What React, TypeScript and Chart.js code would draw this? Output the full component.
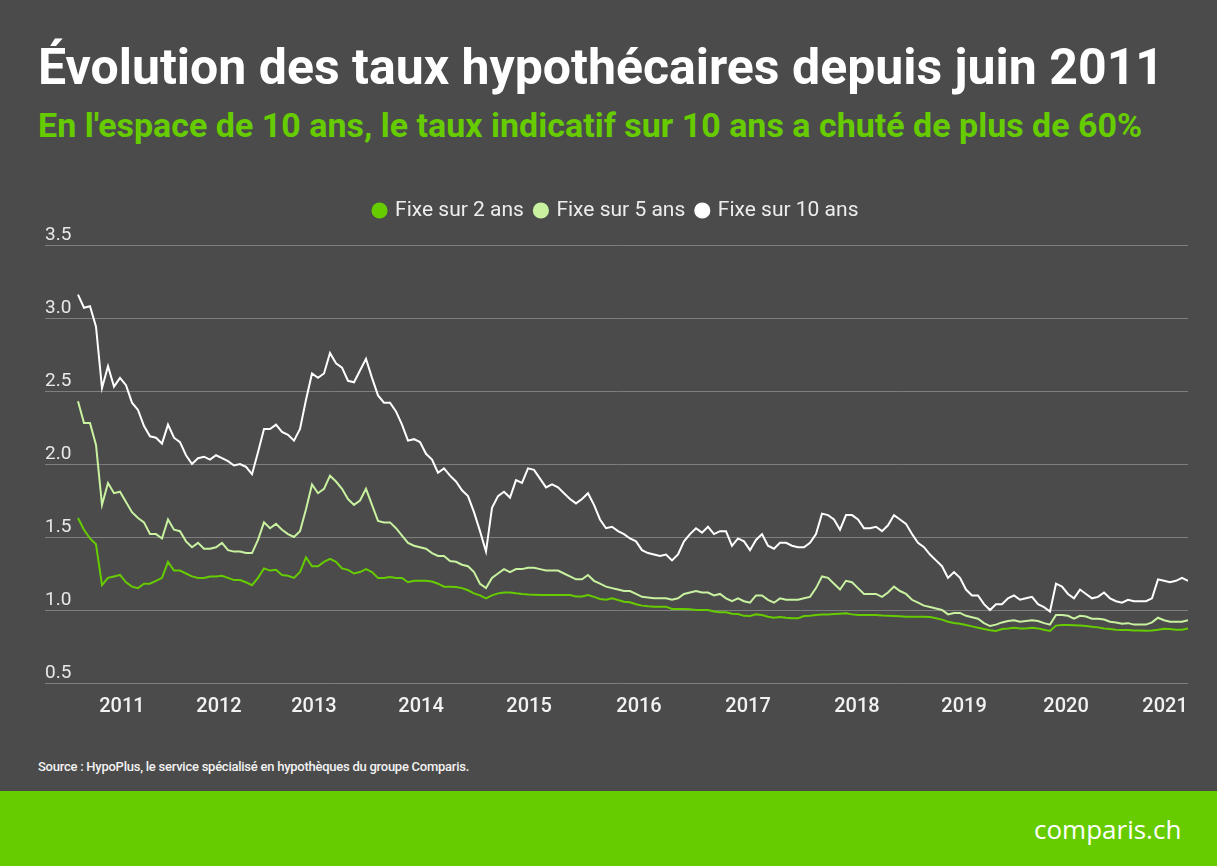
import React, { useEffect, useRef } from 'react';
import { Chart, registerables } from 'chart.js';

Chart.register(...registerables);

const seriesNames = ['Fixe sur 2 ans', 'Fixe sur 5 ans', 'Fixe sur 10 ans'];
const seriesColors = ['#66cc00', '#c8f2a0', '#ffffff'];

const yearLabels = ['2011', '2012', '2013', '2014', '2015', '2016', '2017', '2018', '2019', '2020', '2021'];
// sample index (one sample every ~3 weeks) where each year label sits
const yearTickIndex = [7.33, 23.5, 39.33, 57.17, 75.17, 93.5, 111.67, 129.83, 147.67, 164.67, 181.17];
const yTicks = [0.5, 1.0, 1.5, 2.0, 2.5, 3.0, 3.5];

const fixe2 = [
  1.63, 1.55, 1.49, 1.45, 1.17, 1.22, 1.23, 1.24, 1.19, 1.16,
  1.15, 1.18, 1.18, 1.20, 1.22, 1.33, 1.27, 1.27, 1.25, 1.23,
  1.22, 1.22, 1.23, 1.23, 1.235, 1.22, 1.205, 1.205, 1.19, 1.17,
  1.22, 1.285, 1.27, 1.275, 1.24, 1.235, 1.22, 1.26, 1.36, 1.30,
  1.30, 1.33, 1.35, 1.33, 1.285, 1.275, 1.25, 1.26, 1.28, 1.26,
  1.22, 1.22, 1.226, 1.22, 1.22, 1.19, 1.20, 1.20, 1.20, 1.195,
  1.18, 1.16, 1.16, 1.158, 1.15, 1.135, 1.114, 1.10, 1.08, 1.10,
  1.114, 1.12, 1.12, 1.114, 1.11, 1.107, 1.105, 1.103, 1.103, 1.103,
  1.103, 1.103, 1.103, 1.093, 1.093, 1.103, 1.09, 1.075, 1.07, 1.08,
  1.068, 1.057, 1.053, 1.039, 1.03, 1.025, 1.023, 1.023, 1.023, 1.007,
  1.007, 1.007, 1.005, 1.00, 1.00, 1.00, 0.99, 0.984, 0.984, 0.975,
  0.973, 0.96, 0.959, 0.97, 0.966, 0.954, 0.947, 0.952, 0.947, 0.943,
  0.943, 0.959, 0.96, 0.966, 0.97, 0.97, 0.973, 0.975, 0.977, 0.97,
  0.966, 0.966, 0.966, 0.966, 0.963, 0.961, 0.959, 0.957, 0.954, 0.954,
  0.954, 0.954, 0.952, 0.943, 0.934, 0.92, 0.911, 0.906, 0.897, 0.888,
  0.879, 0.87, 0.861, 0.856, 0.87, 0.874, 0.879, 0.874, 0.874, 0.879,
  0.874, 0.865, 0.856, 0.893, 0.897, 0.897, 0.895, 0.893, 0.89, 0.886,
  0.881, 0.874, 0.87, 0.865, 0.863, 0.863, 0.86, 0.86, 0.858, 0.86,
  0.865, 0.872, 0.87, 0.865, 0.865, 0.874,
];

const fixe5 = [
  2.43, 2.28, 2.28, 2.13, 1.72, 1.87, 1.80, 1.81, 1.74, 1.67,
  1.63, 1.60, 1.52, 1.52, 1.49, 1.62, 1.55, 1.54, 1.47, 1.43,
  1.46, 1.42, 1.42, 1.43, 1.46, 1.41, 1.40, 1.40, 1.39, 1.39,
  1.48, 1.60, 1.56, 1.59, 1.55, 1.52, 1.50, 1.54, 1.69, 1.86,
  1.80, 1.83, 1.92, 1.88, 1.83, 1.76, 1.72, 1.75, 1.83, 1.72,
  1.61, 1.60, 1.60, 1.56, 1.51, 1.46, 1.44, 1.43, 1.42, 1.39,
  1.37, 1.37, 1.335, 1.33, 1.31, 1.30, 1.26, 1.18, 1.15, 1.22,
  1.25, 1.28, 1.26, 1.28, 1.28, 1.29, 1.29, 1.28, 1.27, 1.27,
  1.27, 1.25, 1.23, 1.21, 1.21, 1.24, 1.20, 1.18, 1.16, 1.15,
  1.14, 1.13, 1.13, 1.11, 1.09, 1.085, 1.08, 1.08, 1.08, 1.07,
  1.08, 1.11, 1.12, 1.13, 1.12, 1.12, 1.10, 1.11, 1.08, 1.06,
  1.08, 1.06, 1.05, 1.10, 1.10, 1.07, 1.05, 1.08, 1.07, 1.07,
  1.07, 1.08, 1.09, 1.15, 1.23, 1.22, 1.18, 1.14, 1.20, 1.19,
  1.15, 1.11, 1.11, 1.11, 1.09, 1.12, 1.16, 1.13, 1.11, 1.07,
  1.05, 1.03, 1.02, 1.01, 1.00, 0.97, 0.98, 0.98, 0.96, 0.95,
  0.94, 0.91, 0.89, 0.90, 0.915, 0.925, 0.93, 0.92, 0.925, 0.93,
  0.925, 0.91, 0.90, 0.966, 0.966, 0.96, 0.94, 0.96, 0.955, 0.94,
  0.94, 0.935, 0.92, 0.915, 0.906, 0.91, 0.90, 0.90, 0.90, 0.915,
  0.947, 0.93, 0.92, 0.92, 0.92, 0.93,
];

const fixe10 = [
  3.16, 3.07, 3.08, 2.94, 2.52, 2.67, 2.53, 2.59, 2.54, 2.42,
  2.37, 2.26, 2.19, 2.18, 2.14, 2.27, 2.18, 2.15, 2.06, 2.00,
  2.04, 2.05, 2.03, 2.06, 2.04, 2.02, 1.99, 2.00, 1.98, 1.93,
  2.08, 2.24, 2.24, 2.27, 2.22, 2.20, 2.16, 2.24, 2.44, 2.62,
  2.59, 2.62, 2.76, 2.69, 2.66, 2.57, 2.56, 2.64, 2.72, 2.59,
  2.47, 2.42, 2.42, 2.36, 2.27, 2.16, 2.17, 2.15, 2.07, 2.03,
  1.94, 1.97, 1.92, 1.88, 1.82, 1.78, 1.67, 1.54, 1.40, 1.70,
  1.78, 1.81, 1.77, 1.89, 1.87, 1.97, 1.96, 1.90, 1.84, 1.86,
  1.84, 1.80, 1.76, 1.73, 1.76, 1.80, 1.72, 1.62, 1.56, 1.57,
  1.54, 1.52, 1.49, 1.47, 1.41, 1.39, 1.38, 1.37, 1.38, 1.34,
  1.38, 1.47, 1.52, 1.56, 1.53, 1.57, 1.52, 1.54, 1.54, 1.44,
  1.49, 1.47, 1.41, 1.48, 1.52, 1.44, 1.42, 1.46, 1.46, 1.44,
  1.43, 1.43, 1.46, 1.52, 1.66, 1.65, 1.62, 1.55, 1.65, 1.65,
  1.62, 1.56, 1.56, 1.57, 1.54, 1.58, 1.65, 1.62, 1.59, 1.52,
  1.46, 1.43, 1.38, 1.34, 1.30, 1.22, 1.26, 1.22, 1.14, 1.10,
  1.10, 1.04, 1.00, 1.04, 1.04, 1.08, 1.10, 1.07, 1.08, 1.09,
  1.04, 1.02, 0.99, 1.18, 1.16, 1.11, 1.08, 1.14, 1.11, 1.08,
  1.09, 1.12, 1.08, 1.06, 1.05, 1.07, 1.06, 1.06, 1.06, 1.08,
  1.21, 1.20, 1.19, 1.20, 1.22, 1.20,
];

const allSeries = [fixe2, fixe5, fixe10];

const BG = '#4b4b4b';
const FONT = 'Roboto, "Noto Sans", sans-serif';

export default function App() {
  const canvasRef = useRef<HTMLCanvasElement>(null);

  useEffect(() => {
    document.body.style.margin = '0';
    const canvas = canvasRef.current;
    if (!canvas) return;

    const legendSpace = {
      id: 'legendSpace',
      beforeInit(chart: any) {
        const legend = chart.legend;
        if (!legend) return;
        const origFit = legend.fit;
        legend.fit = function () {
          origFit.call(this);
          this.height += 14;
        };
      },
    };

    const chart = new Chart(canvas, {
      type: 'line',
      data: {
        datasets: allSeries.map((arr, k) => ({
          label: seriesNames[k],
          data: arr.map((v, i) => ({ x: i, y: v })),
          borderColor: seriesColors[k],
          backgroundColor: seriesColors[k],
          borderWidth: 2,
          pointRadius: 0,
          tension: 0,
          fill: false,
        })),
      },
      options: {
        responsive: false,
        animation: false,
        layout: { padding: { left: 45, right: 29, top: 0, bottom: 0 } },
        plugins: {
          legend: {
            position: 'top',
            align: 'center',
            labels: {
              usePointStyle: true,
              pointStyle: 'circle',
              boxWidth: 10,
              boxHeight: 10,
              color: '#ededed',
              font: { family: FONT, size: 21 },
              padding: 12,
            },
          },
          tooltip: { enabled: false },
        },
        scales: {
          x: {
            type: 'linear',
            min: -5.5,
            max: 185,
            afterBuildTicks: (s: any) => {
              s.ticks = yearTickIndex.map((v) => ({ value: v }));
            },
            ticks: {
              autoSkip: false,
              maxRotation: 0,
              callback: (_v: any, i: number) => yearLabels[i],
              color: '#f2f2f2',
              font: { family: FONT, size: 20, weight: '500' },
              padding: 4,
            },
            grid: { display: false },
            border: { display: false },
          },
          y: {
            min: 0.5,
            max: 3.5,
            afterBuildTicks: (s: any) => {
              s.ticks = yTicks.map((v) => ({ value: v }));
            },
            ticks: {
              mirror: true,
              labelOffset: -10,
              padding: 0,
              callback: (v: any) => Number(v).toFixed(1),
              color: '#e8e8e8',
              font: { family: FONT, size: 19 },
            },
            grid: { color: '#7e7e7e', lineWidth: 1, drawTicks: false },
            border: { display: false },
          },
        },
      },
      plugins: [legendSpace],
    } as any);

    return () => chart.destroy();
  }, []);

  return (
    <div style={{ position: 'relative', width: 1217, height: 866, background: BG, overflow: 'hidden', fontFamily: FONT }}>
      <div style={{ position: 'absolute', left: 38, top: 42, color: '#ffffff', fontWeight: 700, fontSize: 50, lineHeight: '50px', whiteSpace: 'nowrap' }}>
        Évolution des taux hypothécaires depuis juin 2011
      </div>
      <div style={{ position: 'absolute', left: 38, top: 108, color: '#66cc00', fontWeight: 700, fontSize: 34, lineHeight: '34px', whiteSpace: 'nowrap' }}>
        En l'espace de 10 ans, le taux indicatif sur 10 ans a chuté de plus de 60%
      </div>
      <canvas ref={canvasRef} width={1217} height={535} style={{ position: 'absolute', left: 0, top: 188, width: 1217, height: 535 }} />
      <div style={{ position: 'absolute', left: 38, top: 760, color: '#f2f2f2', fontWeight: 500, fontSize: 13, lineHeight: '14px', letterSpacing: '-0.25px', whiteSpace: 'nowrap' }}>
        Source : HypoPlus, le service spécialisé en hypothèques du groupe Comparis.
      </div>
      <div style={{ position: 'absolute', left: 0, top: 791, width: 1217, height: 75, background: '#66cc00' }} />
      <div style={{ position: 'absolute', left: 1034, top: 813, color: '#ffffff', fontSize: 26, lineHeight: '32px', fontFamily: '"Open Sans", sans-serif', whiteSpace: 'nowrap' }}>
        comparis.ch
      </div>
    </div>
  );
}
